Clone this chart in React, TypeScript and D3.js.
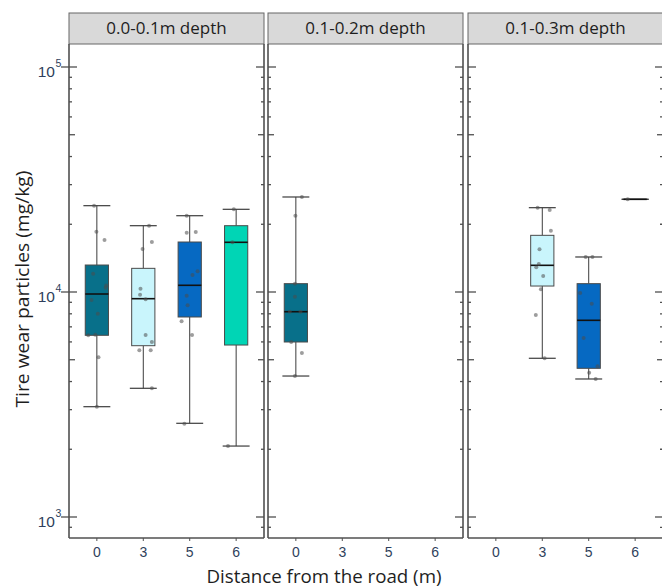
import React from "react";
import * as d3 from "d3";

// Facets and categories
const depthLabels = ["0.0-0.1m depth", "0.1-0.2m depth", "0.1-0.3m depth"];
const distances = ["0", "3", "5", "6"];
const distanceColors = ["#08708a", "#c9f5fc", "#0669c2", "#00d5b5"];

// Box summaries (mg/kg): one entry per box
const boxPanel = [0, 0, 0, 0, 1, 2, 2, 2];
const boxDistance = ["0", "3", "5", "6", "0", "3", "5", "6"];
const boxLow = [3092, 3733, 2609, 2067, 4232, 5075, 4106, 25820];
const boxQ1 = [6421, 5772, 7743, 5812, 5995, 10630, 4580, 25820];
const boxMedian = [9797, 9338, 10710, 16630, 8173, 13140, 7485, 25820];
const boxQ3 = [13180, 12740, 16680, 19710, 10890, 17860, 10890, 25820];
const boxHigh = [24190, 19710, 21830, 23310, 26440, 23700, 14310, 25820];

// Individual samples: box index, value (mg/kg), horizontal jitter (fraction of box width)
const pointBox = [
  0, 0, 0, 0, 0, 0, 0, 0, 0, 0, 0, 0,
  1, 1, 1, 1, 1, 1, 1, 1, 1, 1, 1,
  2, 2, 2, 2, 2, 2, 2, 2, 2, 2,
  3, 3, 3,
  4, 4, 4, 4, 4, 4, 4, 4, 4,
  5, 5, 5, 5, 5, 5, 5, 5, 5, 5,
  6, 6, 6, 6, 6, 6, 6, 6,
  7,
];
const pointValue = [
  24190, 18540, 17020, 12060, 10700, 10450, 9213, 8010, 6421, 6460, 5126, 3092,
  19710, 16680, 15530, 10340, 9727, 9280, 6440, 5995, 5507, 5507, 3733,
  21830, 18350, 18470, 12360, 11900, 9628, 8727, 7410, 6440, 2600,
  23310, 16630, 2067,
  26440, 21830, 10890, 9530, 8173, 8173, 5995, 5355, 4232,
  23700, 23140, 18730, 15480, 13320, 12880, 11780, 10280, 7901, 5075,
  14310, 14310, 9898, 8872, 6245, 4675, 4380, 4106,
  25820,
];
const pointJitter = [
  -0.12, -0.02, 0.33, -0.16, 0.4, 0.38, -0.23, 0.04, -0.37, -0.07, 0.07, 0,
  0.25, 0.37, -0.03, -0.12, -0.14, 0.1, 0.1, 0.37, -0.17, 0.32, 0.37,
  -0.13, -0.13, 0.26, 0.34, 0.12, -0.13, -0.09, -0.35, 0.1, -0.23,
  -0.1, -0.16, -0.35,
  0.26, -0.02, -0.04, -0.04, -0.26, 0.2, -0.2, 0.26, -0.04,
  -0.2, 0.32, 0.37, -0.12, -0.15, -0.26, 0.04, -0.06, -0.28, 0.1,
  -0.13, 0.16, -0.37, 0.13, -0.22, 0.38, 0.02, 0.3,
  -0.32,
];

// Log-axis ticks
const decadeTicks = [1e3, 1e4, 1e5];
const minorTicks = [
  900,
  1000, 2000, 3000, 4000, 5000, 6000, 7000, 8000, 9000,
  10000, 20000, 30000, 40000, 50000, 60000, 70000, 80000, 90000,
  100000,
];

const W = 662;
const H = 587;
const panelLeft = [69, 268, 468];
const panelWidth = 195;
const headerTop = 13;
const plotTop = 44;
const plotBottom = 538;

const frame = "#505050";
const tickText = "#2f3f5c";
const uiFont = "'Open Sans', 'Noto Sans', sans-serif";
const tickFont = "'Liberation Sans', Arial, sans-serif";

const y = d3.scaleLog().domain([1e3, 1e5]).range([517, 67]);

function tickLen(v: number) {
  const m = Math.round(v / Math.pow(10, Math.floor(Math.log10(v) + 1e-9)));
  if (m === 1) return 8;
  if (m === 5) return 6;
  return 3;
}

function Panel({ index }: { index: number }) {
  const x0 = panelLeft[index];
  const x1 = x0 + panelWidth;
  const x = d3.scalePoint<string>().domain(distances).range([x0, x1]).padding(0.6);
  const step = x.step();
  const boxW = step * 0.5;
  const capW = step * 0.58;

  const boxes = d3.range(boxPanel.length).filter((i) => boxPanel[i] === index);

  return (
    <g>
      {/* strip header */}
      <rect x={x0} y={headerTop} width={panelWidth} height={plotTop - headerTop} fill="#d9d9d9" stroke="#666666" strokeWidth={1} />
      <text x={(x0 + x1) / 2} y={34} textAnchor="middle" fontFamily={uiFont} fontSize={17} fill="#1e1e1e">
        {depthLabels[index]}
      </text>

      {/* boxes */}
      {boxes.map((i) => {
        const cx = x(boxDistance[i])!;
        const fill = distanceColors[distances.indexOf(boxDistance[i])];
        const yq3 = y(boxQ3[i]);
        const yq1 = y(boxQ1[i]);
        return (
          <g key={i}>
            <line x1={cx} x2={cx} y1={y(boxHigh[i])} y2={yq3} stroke="#3c3c3c" strokeWidth={1} />
            <line x1={cx} x2={cx} y1={yq1} y2={y(boxLow[i])} stroke="#3c3c3c" strokeWidth={1} />
            <line x1={cx - capW / 2} x2={cx + capW / 2} y1={y(boxHigh[i])} y2={y(boxHigh[i])} stroke="#3c3c3c" strokeWidth={1.2} />
            <line x1={cx - capW / 2} x2={cx + capW / 2} y1={y(boxLow[i])} y2={y(boxLow[i])} stroke="#3c3c3c" strokeWidth={1.2} />
            <rect x={cx - boxW / 2} y={yq3} width={boxW} height={Math.max(0, yq1 - yq3)} fill={fill} stroke="#4a4a4a" strokeWidth={1} />
            <line x1={cx - boxW / 2} x2={cx + boxW / 2} y1={y(boxMedian[i])} y2={y(boxMedian[i])} stroke="#111" strokeWidth={1.6} />
          </g>
        );
      })}

      {/* samples */}
      {d3.range(pointBox.length)
        .filter((j) => boxPanel[pointBox[j]] === index)
        .map((j) => {
          const b = pointBox[j];
          const cx = x(boxDistance[b])! + pointJitter[j] * boxW;
          return <circle key={j} cx={cx} cy={y(pointValue[j])} r={2} fill="#4d4d4d" fillOpacity={0.55} />;
        })}

      {/* panel frame */}
      <line x1={x0} x2={x0} y1={plotTop} y2={plotBottom} stroke={frame} strokeWidth={1.6} />
      <line x1={x1} x2={x1} y1={plotTop} y2={plotBottom} stroke={frame} strokeWidth={1.6} />
      <line x1={x0} x2={x1} y1={plotBottom} y2={plotBottom} stroke={frame} strokeWidth={1.6} />

      {/* inward y ticks on both sides */}
      {minorTicks.map((v) => {
        const ty = y(v);
        const len = tickLen(v);
        return (
          <g key={v}>
            <line x1={x0} x2={x0 + len} y1={ty} y2={ty} stroke={frame} strokeWidth={1.3} />
            <line x1={x1 - len} x2={x1} y1={ty} y2={ty} stroke={frame} strokeWidth={1.3} />
          </g>
        );
      })}

      {/* x ticks and labels */}
      {distances.map((d) => (
        <g key={d}>
          <line x1={x(d)!} x2={x(d)!} y1={plotBottom} y2={plotBottom + 3} stroke={frame} strokeWidth={1} />
          <text x={x(d)!} y={556.5} textAnchor="middle" fontFamily={tickFont} fontSize={14} fill={tickText}>
            {d}
          </text>
        </g>
      ))}
    </g>
  );
}

export default function App() {
  const x0 = panelLeft[0];
  return (
    <svg width={W} height={H} style={{ position: "absolute", left: 0, top: 0, background: "#ffffff" }}>
      <rect width={W} height={H} fill="#ffffff" />
      {depthLabels.map((_, i) => (
        <Panel key={i} index={i} />
      ))}

      {/* outer y axis: decade labels */}
      {decadeTicks.map((v) => {
        const ty = y(v);
        const exp = Math.round(Math.log10(v));
        return (
          <g key={v}>
            <line x1={x0 - 8} x2={x0} y1={ty} y2={ty} stroke={frame} strokeWidth={1.3} />
            <text x={55} y={ty + 9.5} textAnchor="end" fontFamily={tickFont} fontSize={15.5} fill={tickText}>
              10
            </text>
            <text x={55.5} y={ty - 0.5} textAnchor="start" fontFamily={tickFont} fontSize={10.5} fill={tickText}>
              {exp}
            </text>
          </g>
        );
      })}

      {/* axis titles */}
      <text
        transform={`translate(29,289) rotate(-90)`}
        textAnchor="middle"
        fontFamily={uiFont}
        fontSize={18}
        fill="#1e1e1e"
        textLength={237}
        lengthAdjust="spacingAndGlyphs"
      >
        Tire wear particles (mg/kg)
      </text>
      <text
        x={324}
        y={583}
        textAnchor="middle"
        fontFamily={uiFont}
        fontSize={18.5}
        fill="#1e1e1e"
        textLength={235}
        lengthAdjust="spacingAndGlyphs"
      >
        Distance from the road (m)
      </text>
    </svg>
  );
}
